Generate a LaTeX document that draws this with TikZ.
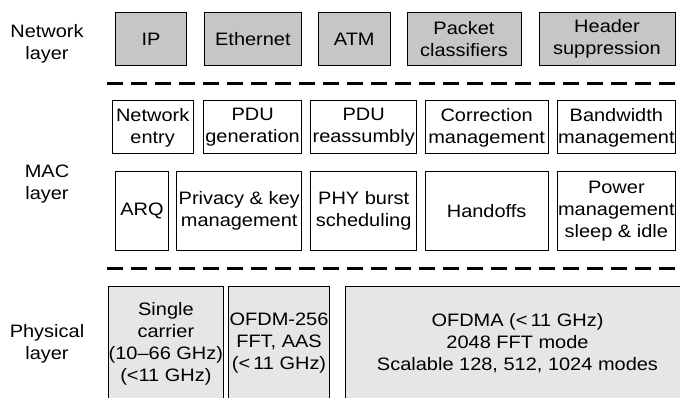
\documentclass[tikz,border=0pt]{standalone}
\usepackage{fontspec}
\setmainfont{Liberation Sans}[FakeStretch=1.11]
\begin{document}
\begin{tikzpicture}[x=1pt,y=-1pt,
  every node/.style={font=\fontsize{18}{22}\selectfont, align=center, inner sep=0pt},
  blk/.style={draw=black, line width=1pt},
  netbox/.style={blk, fill=netgray},
  macbox/.style={blk, fill=white},
  phybox/.style={blk, fill=phygray},
  layerlabel/.style={},
  divider/.style={line width=3pt, dash pattern=on 15.5pt off 8.5pt}]
\definecolor{netgray}{HTML}{C6C6C6}
\definecolor{phygray}{HTML}{E6E6E6}
\useasboundingbox (0,0) rectangle (680,398);
\clip (0,0) rectangle (680,398);

% layer names
\node[layerlabel] (lnet) at (47,44) {Network\\layer};
\node[layerlabel] (lmac) at (47,184) {MAC\\layer};
\node[layerlabel] (lphy) at (47,344) {Physical\\layer};

% network layer
\node[netbox, minimum width=70.8pt,  minimum height=53pt] (ip)  at (151.1,39) {IP};
\node[netbox, minimum width=97.2pt,  minimum height=53pt] (eth) at (252.9,39) {Ethernet};
\node[netbox, minimum width=71.5pt,  minimum height=53pt] (atm) at (354.25,39) {ATM};
\node[netbox, minimum width=114pt,   minimum height=53pt] (pkt) at (464,39) {Packet\\classifiers};
\node[netbox, minimum width=136pt,   minimum height=53pt] (hdr) at (607,39) {Header\\suppression};

% MAC layer, upper row
\node[macbox, minimum width=80.7pt,  minimum height=53pt] (entry) at (152.65,127.5) {Network\\entry};
\node[macbox, minimum width=98.2pt,  minimum height=53pt] (pdug)  at (252.6,127.5) {PDU\\generation};
\node[macbox, minimum width=106pt,   minimum height=53pt] (pdur)  at (363.7,127.5) {PDU\\reassumbly};
\node[macbox, minimum width=123.3pt, minimum height=53pt] (corr)  at (486.65,127.5) {Correction\\management};
\node[macbox, minimum width=117.3pt, minimum height=53pt] (bw)    at (616.35,127.5) {Bandwidth\\management};

% MAC layer, lower row
\node[macbox, minimum width=52.6pt,  minimum height=78pt] (arq)   at (142,211) {ARQ};
\node[macbox, minimum width=125pt,   minimum height=78pt] (priv)  at (239.2,211) {Privacy \& key\\management};
\node[macbox, minimum width=106pt,   minimum height=78pt] (burst) at (363.7,211) {PHY burst\\scheduling};
\node[macbox, minimum width=123.3pt, minimum height=78pt] (hoff)  at (486.65,211) {Handoffs};
\node[macbox, minimum width=117.3pt, minimum height=78pt] (pwr)   at (616.35,211) {Power\\management\\sleep \& idle};

% physical layer
\node[phybox, minimum width=106.8pt, minimum height=115pt] (sc)    at (165.9,343.5) {Single\\carrier\\(10--66 GHz)\\(<11 GHz)};
\node[phybox, minimum width=100.5pt, minimum height=115pt] (ofdm)  at (279.05,343.5) {OFDM-256\\FFT, AAS\\(<\,11 GHz)};
\node[phybox, minimum width=345pt,   minimum height=115pt] (ofdma) at (517.5,343.5) {OFDMA (<\,11 GHz)\\2048 FFT mode\\Scalable 128, 512, 1024 modes};

% dashed dividers between layers
\coordinate (d1a) at (107,84);  \coordinate (d1b) at (676,84);
\coordinate (d2a) at (107,268); \coordinate (d2b) at (676,268);
\draw[divider] (d1a) -- (d1b);
\draw[divider] (d2a) -- (d2b);
\end{tikzpicture}
\end{document}
